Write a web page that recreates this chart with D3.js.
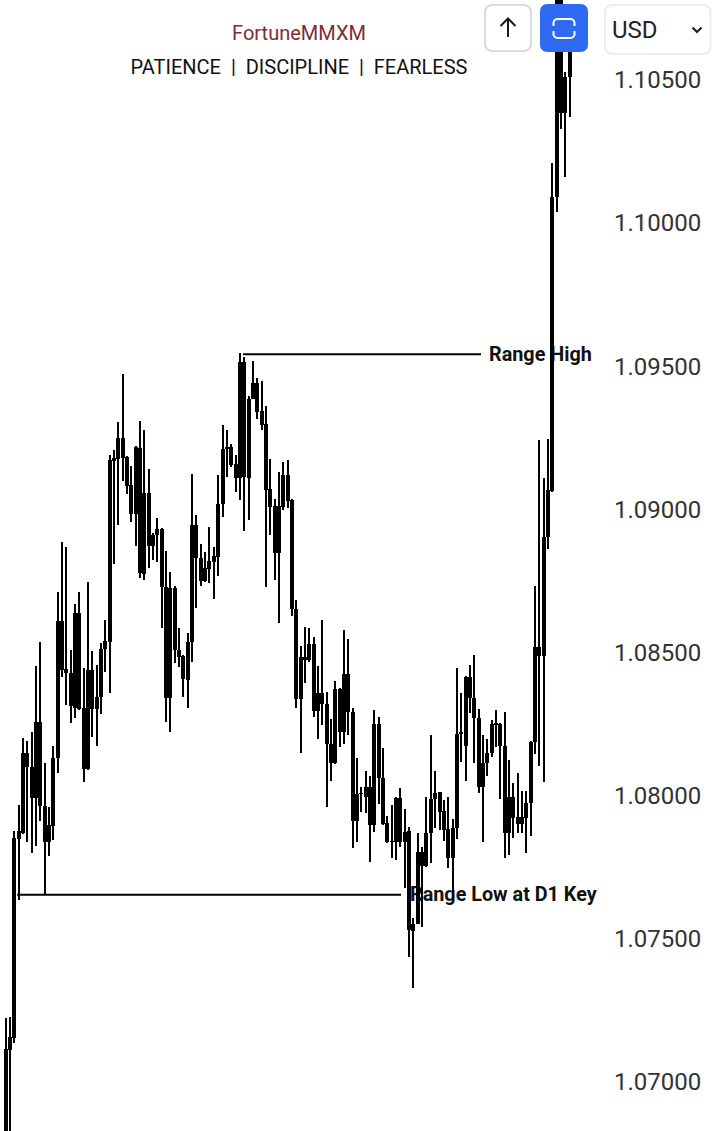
<!DOCTYPE html>
<html>
<head>
<meta charset="utf-8">
<script src="https://cdn.jsdelivr.net/npm/d3@7/dist/d3.min.js"></script>
<style>
html,body{margin:0;padding:0;background:#fff;}
svg{display:block;font-family:Roboto,sans-serif;}
</style>
</head>
<body>
<div id="chart"></div>
<script>
const highs = [1.07220,1.07224,1.07874,1.07965,1.08199,1.08188,1.08220,1.08450,1.08534,1.08111,1.07958,1.08171,1.08709,1.08884,1.08866,1.08506,1.08667,1.08709,1.08444,1.08744,1.08503,1.08454,1.08531,1.08611,1.09188,1.09205,1.09303,1.09471,1.09184,1.09149,1.09218,1.09307,1.09275,1.09139,1.08915,1.08968,1.08933,1.08852,1.08779,1.08730,1.08583,1.08489,1.08566,1.09121,1.08978,1.08877,1.08849,1.08936,1.08866,1.09118,1.09293,1.09275,1.09226,1.09188,1.09544,1.09530,1.09394,1.09516,1.09457,1.09446,1.09359,1.09174,1.09034,1.09128,1.09163,1.09170,1.09033,1.08681,1.08520,1.08587,1.08583,1.08552,1.08450,1.08611,1.08358,1.08265,1.08398,1.08372,1.08576,1.08545,1.08304,1.08129,1.08028,1.08083,1.08066,1.08297,1.08272,1.08164,1.07926,1.07965,1.07993,1.08024,1.07951,1.07888,1.07570,1.07867,1.07818,1.07993,1.08209,1.08083,1.08010,1.07982,1.07993,1.07916,1.08444,1.08356,1.08415,1.08454,1.08489,1.08300,1.08209,1.08195,1.08262,1.08297,1.08250,1.08290,1.08122,1.08042,1.08076,1.08014,1.08014,1.08188,1.08730,1.09240,1.09107,1.09244,1.10208,1.10900,1.10900,1.10526,1.10750];
const bodyHighs = [1.07112,1.07154,1.07849,1.07874,1.08146,1.08146,1.08097,1.08255,1.08255,1.07961,1.07895,1.08129,1.08608,1.08608,1.08440,1.08426,1.08636,1.08636,1.08304,1.08436,1.08436,1.08342,1.08510,1.08538,1.09170,1.09177,1.09247,1.09247,1.09181,1.09083,1.09216,1.09212,1.09055,1.09055,1.08908,1.08929,1.08929,1.08727,1.08723,1.08723,1.08506,1.08485,1.08534,1.08943,1.08943,1.08828,1.08793,1.08817,1.08835,1.09017,1.09209,1.09216,1.09216,1.09156,1.09513,1.09513,1.09384,1.09440,1.09440,1.09342,1.09296,1.09069,1.09010,1.09010,1.09118,1.09118,1.09031,1.08650,1.08482,1.08482,1.08527,1.08527,1.08356,1.08356,1.08318,1.08178,1.08370,1.08370,1.08422,1.08422,1.08290,1.08003,1.08007,1.08028,1.08028,1.08248,1.08248,1.08059,1.07902,1.07839,1.07989,1.07989,1.07870,1.07874,1.07549,1.07800,1.07800,1.07867,1.07986,1.08007,1.08010,1.07944,1.07881,1.07884,1.08213,1.08220,1.08412,1.08412,1.08339,1.08269,1.08111,1.08146,1.08248,1.08251,1.08248,1.08171,1.07993,1.07993,1.07923,1.07923,1.07972,1.08185,1.08517,1.08517,1.08901,1.09066,1.10089,1.10850,1.10850,1.10509,1.10673];
const bodyLows = [1.06776,1.07108,1.07150,1.07846,1.07867,1.08097,1.07989,1.07989,1.07961,1.07835,1.07835,1.07891,1.08129,1.08436,1.08426,1.08311,1.08304,1.08300,1.08090,1.08090,1.08300,1.08300,1.08342,1.08510,1.08534,1.09167,1.09174,1.09177,1.09080,1.08982,1.08982,1.08775,1.08772,1.08870,1.08870,1.08908,1.08727,1.08339,1.08339,1.08506,1.08482,1.08405,1.08401,1.08534,1.08828,1.08748,1.08748,1.08789,1.08814,1.08831,1.09017,1.09209,1.09153,1.09107,1.09107,1.09111,1.09107,1.09384,1.09338,1.09293,1.09066,1.09006,1.08845,1.08845,1.09006,1.09027,1.08650,1.08335,1.08335,1.08471,1.08471,1.08293,1.08293,1.08318,1.08178,1.08111,1.08111,1.08220,1.08220,1.08290,1.07909,1.07909,1.08003,1.07993,1.07895,1.07895,1.08059,1.07898,1.07835,1.07835,1.07835,1.07835,1.07835,1.07528,1.07524,1.07549,1.07751,1.07751,1.07867,1.07986,1.07940,1.07877,1.07780,1.07780,1.07884,1.08213,1.08171,1.08339,1.08269,1.08028,1.08028,1.08111,1.08146,1.08244,1.08171,1.07867,1.07867,1.07919,1.07898,1.07898,1.07919,1.07972,1.08185,1.08485,1.08485,1.08901,1.09062,1.10089,1.10383,1.10383,1.10509];
const lows = [1.06759,1.06776,1.07133,1.07633,1.07863,1.07835,1.07797,1.07821,1.07909,1.07650,1.07786,1.07842,1.08076,1.08412,1.08314,1.08251,1.08269,1.08298,1.08045,1.08087,1.08202,1.08171,1.08283,1.08429,1.08356,1.08807,1.08943,1.09097,1.09052,1.08954,1.08870,1.08758,1.08751,1.08793,1.08821,1.08814,1.08583,1.08255,1.08220,1.08461,1.08447,1.08342,1.08304,1.08464,1.08653,1.08730,1.08744,1.08741,1.08685,1.08765,1.08971,1.09111,1.09146,1.09059,1.09031,1.08922,1.08961,1.09382,1.09314,1.09275,1.08727,1.08908,1.08751,1.08601,1.08996,1.09003,1.08625,1.08304,1.08146,1.08391,1.08464,1.08272,1.08195,1.08244,1.07958,1.08049,1.08108,1.08167,1.08178,1.08209,1.07814,1.07835,1.07940,1.07937,1.07765,1.07870,1.07968,1.07896,1.07833,1.07780,1.07772,1.07818,1.07675,1.07433,1.07325,1.07547,1.07538,1.07749,1.07762,1.07884,1.07877,1.07839,1.07744,1.07633,1.07846,1.08115,1.08049,1.08286,1.08111,1.08007,1.07835,1.08066,1.08132,1.08167,1.07986,1.07780,1.07790,1.07849,1.07867,1.07867,1.07797,1.07856,1.08143,1.08101,1.08045,1.08859,1.09060,1.10037,1.10327,1.10159,1.10369];

const priceTicks = [1.105,1.10,1.095,1.09,1.085,1.08,1.075,1.07];
const rangeHighLevel = 1.09540;
const rangeLowLevel = 1.07651;
const rangeHighText = "Range High";
const rangeLowText = "Range Low at D1 Key";
const titleText = "FortuneMMXM";
const subtitleText = "PATIENCE  |  DISCIPLINE  |  FEARLESS";
const currencyText = "USD";

const W = 720, H = 1131;
const svg = d3.select("#chart").append("svg").attr("width", W).attr("height", H);

const y = d3.scaleLinear().domain([1.07, 1.105]).range([1081, 79.5]);
const x = d3.scaleLinear().domain([0, highs.length - 1]).range([5.5, 569.7]);
const cx = i => Math.round(x(i));

svg.append("rect").attr("width", W).attr("height", H).attr("fill", "#fff");

// range levels and their labels
const lv = svg.append("g").attr("stroke", "#000").attr("stroke-width", 2);
lv.append("line").attr("x1", 243).attr("x2", 481).attr("y1", y(rangeHighLevel)).attr("y2", y(rangeHighLevel));
lv.append("line").attr("x1", 17).attr("x2", 401).attr("y1", y(rangeLowLevel)).attr("y2", y(rangeLowLevel));

svg.append("text").attr("x", 489).attr("y", y(rangeHighLevel) + 7).text(rangeHighText)
  .attr("font-size", 19.8).attr("font-weight", 700).attr("fill", "#111");
svg.append("text").attr("x", 410).attr("y", y(rangeLowLevel) + 6.5).text(rangeLowText)
  .attr("font-size", 19.8).attr("font-weight", 700).attr("fill", "#111");

// candles
const idx = d3.range(highs.length);
const c = svg.append("g").attr("shape-rendering", "crispEdges").attr("fill", "#000");
c.selectAll("rect.wick").data(idx).join("rect").attr("class", "wick")
  .attr("x", i => cx(i) - 1).attr("width", 2)
  .attr("y", i => y(highs[i])).attr("height", i => y(lows[i]) - y(highs[i]));
c.selectAll("rect.body").data(idx).join("rect").attr("class", "body")
  .attr("x", i => cx(i) - 2).attr("width", 4)
  .attr("y", i => y(bodyHighs[i])).attr("height", i => Math.max(1, y(bodyLows[i]) - y(bodyHighs[i])));

// price axis
const axis = svg.append("g").attr("transform", "translate(614,0)")
  .call(d3.axisRight(y).tickValues(priceTicks).tickFormat(d3.format(".5f")).tickSize(0).tickPadding(0));
axis.select(".domain").remove();
axis.selectAll("text").attr("font-family", "Roboto, sans-serif").attr("font-size", 24).attr("fill", "#333").attr("dy", "0.35em");

// header
svg.append("text").attr("x", 299).attr("y", 40).attr("text-anchor", "middle").text(titleText)
  .attr("font-size", 20).attr("fill", "#7b2d38");
svg.append("text").attr("x", 299).attr("y", 74).attr("text-anchor", "middle").text(subtitleText)
  .attr("font-size", 20).attr("fill", "#111").style("white-space", "pre");

// buttons
svg.append("rect").attr("x", 485).attr("y", 5).attr("width", 46).attr("height", 46).attr("rx", 7)
  .attr("fill", "#fff").attr("stroke", "#dcdcdc").attr("stroke-width", 2);
svg.append("path").attr("d", "M508 37V19M500.5 26L508 18.5L515.5 26").attr("fill", "none").attr("stroke", "#1a1a1a").attr("stroke-width", 2);
svg.append("rect").attr("x", 540).attr("y", 4).attr("width", 48).attr("height", 48).attr("rx", 7).attr("fill", "#2f6bf2");
svg.append("path").attr("d", "M553.5 26V23a4 4 0 0 1 4-4h13a4 4 0 0 1 4 4v3M553.5 31v3a4 4 0 0 0 4 4h13a4 4 0 0 0 4-4v-3")
  .attr("fill", "none").attr("stroke", "#fff").attr("stroke-width", 2);
svg.append("rect").attr("x", 605).attr("y", 5).attr("width", 105.5).attr("height", 49).attr("rx", 7)
  .attr("fill", "#fff").attr("stroke", "#eeeeee").attr("stroke-width", 2);
svg.append("text").attr("x", 612).attr("y", 38).text(currencyText).attr("font-size", 24).attr("fill", "#222");
svg.append("path").attr("d", "M692.5 27.5L697 32L701.5 27.5").attr("fill", "none").attr("stroke", "#222").attr("stroke-width", 2.2);
</script>
</body>
</html>
